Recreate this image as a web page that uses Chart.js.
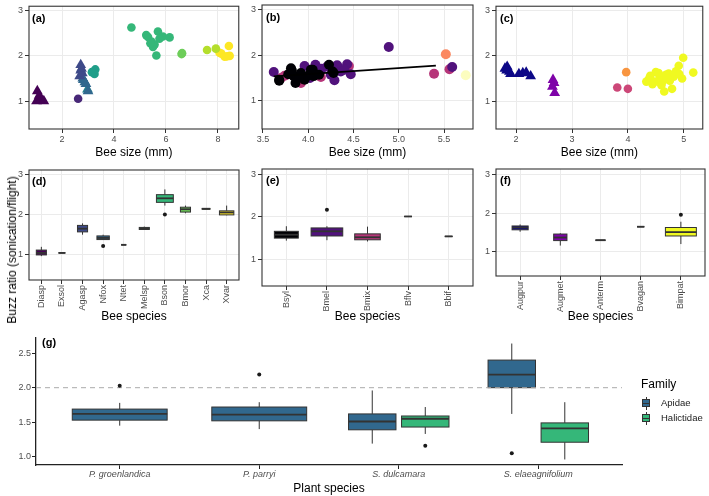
<!DOCTYPE html>
<html>
<head>
<meta charset="utf-8">
<script src="https://cdn.jsdelivr.net/npm/chart.js@4.4.1/dist/chart.umd.min.js"></script>
<style>
  body { margin: 0; background: #fff; font-family: "Liberation Sans", Arial, Helvetica, sans-serif; }
  #wrap { position: relative; width: 709px; height: 496px; overflow: hidden; }
  canvas { position: absolute; }
  .txt { position: absolute; white-space: nowrap; color: #000; }
  #ytitle { left: 12px; top: 250px; font-size: 12px; transform: translate(-50%, -50%) rotate(-90deg); }
  .key { position: absolute; width: 8px; height: 8px; border: 1px solid #333; box-sizing: border-box; }
  .key::after { content: ""; position: absolute; left: 0; right: 0; top: 2.5px; height: 1.5px; background: #333; }
  .whisk { position: absolute; width: 1px; background: #333; }
</style>
</head>
<body>
<div id="wrap">
  <canvas id="pa" width="245" height="162" style="left:0;top:0"></canvas>
  <canvas id="pb" width="245" height="162" style="left:233px;top:0"></canvas>
  <canvas id="pc" width="242" height="162" style="left:467px;top:0"></canvas>
  <canvas id="pd" width="245" height="162" style="left:0;top:162px"></canvas>
  <canvas id="pe" width="245" height="162" style="left:233px;top:162px"></canvas>
  <canvas id="pf" width="242" height="162" style="left:467px;top:162px"></canvas>
  <canvas id="pg" width="709" height="172" style="left:0;top:324px"></canvas>

  <div id="ytitle" class="txt">Buzz ratio (sonication/flight)</div>

  <div class="txt" style="left:641px;top:377px;font-size:12px">Family</div>
  <div class="whisk" style="left:646px;top:397px;height:13px"></div>
  <div class="key" style="left:642px;top:399px;background:#31688E"></div>
  <div class="txt" style="left:661px;top:397px;font-size:9.5px;color:#1A1A1A">Apidae</div>
  <div class="whisk" style="left:646px;top:412px;height:13px"></div>
  <div class="key" style="left:642px;top:414px;background:#35B779"></div>
  <div class="txt" style="left:661px;top:412px;font-size:9.5px;color:#1A1A1A">Halictidae</div>
</div>

<script>
const FONT = '"Liberation Sans", Arial, Helvetica, sans-serif';
Chart.defaults.font.family = FONT;

// ---------- panel (a): all bee species on S. elaeagnifolium / others ----------
const aLabels = ['Diasp', 'Exsol', 'Agasp', 'Nfox', 'Ntet', 'Melsp', 'Bson', 'Bmor', 'Xca', 'Xvar'];
const aFamily = ['Halictidae', 'Apidae', 'Halictidae', 'Halictidae', 'Halictidae', 'Apidae', 'Apidae', 'Apidae', 'Apidae', 'Apidae'];
const aSize = [1.05, 1.02, 1.2, 1.12, 1.3, 2.62, 2.72, 2.72, 2.68, 2.78, 2.75, 2.82, 2.88, 2.92, 2.8, 3.0, 2.98,
  3.2, 3.28, 3.25, 3.15, 4.67, 5.24, 5.31, 5.69, 5.88, 6.14, 5.44, 5.56, 5.5, 5.63, 5.75, 5.4,
  6.6, 6.62, 7.58, 7.92, 8.06, 8.13, 8.26, 8.45, 8.42, 8.35];
const aBuzz = [1.22, 1.0, 1.05, 1.12, 1.0, 1.05, 1.8, 1.68, 1.55, 1.62, 1.72, 1.47, 1.42, 1.38, 1.5, 1.22, 1.26,
  1.65, 1.7, 1.6, 1.64, 2.63, 2.46, 2.42, 2.54, 2.43, 2.41, 2.32, 2.25, 2.2, 2.01, 2.38, 2.28,
  2.04, 2.06, 2.13, 2.16, 2.07, 2.05, 1.98, 2.0, 2.22, 1.99];
const aSp = [0, 0, 0, 0, 0, 1, 2, 2, 2, 2, 2, 3, 3, 3, 3, 3, 4,
  5, 5, 5, 5, 6, 6, 6, 6, 6, 6, 6, 6, 6, 6, 6, 6,
  7, 7, 8, 8, 9, 9, 9, 9, 9, 9];

// ---------- panel (b) ----------
const bLabels = ['Bsyl', 'Bmel', 'Bmix', 'Bflv', 'Bbif'];
const bSize = [3.68, 3.82, 3.84, 3.86, 3.92, 3.96, 4.05, 4.06, 4.12, 4.23, 4.27, 3.81, 3.68, 4.28, 4.03, 3.9, 3.78, 4.0,
  3.62, 3.96, 4.08, 4.21, 4.32, 4.43, 4.47, 4.36, 4.02, 4.25, 3.9, 4.29, 4.89, 5.59, 4.15, 4.4,
  3.7, 3.92, 4.45, 4.14, 5.39, 5.56, 3.74,
  5.52, 5.74];
const bBuzz = [1.44, 1.66, 1.54, 1.39, 1.61, 1.46, 1.68, 1.54, 1.57, 1.79, 1.64, 1.71, 1.46, 1.61, 1.68, 1.5, 1.58, 1.55,
  1.63, 1.76, 1.79, 1.75, 1.78, 1.8, 1.58, 1.64, 1.5, 1.57, 1.52, 1.45, 2.18, 1.74, 1.7, 1.68,
  1.5, 1.39, 1.76, 1.52, 1.59, 1.69, 1.55,
  2.02, 1.56];
const bSp = [0, 0, 0, 0, 0, 0, 0, 0, 0, 0, 0, 0, 0, 0, 0, 0, 0, 0,
  1, 1, 1, 1, 1, 1, 1, 1, 1, 1, 1, 1, 1, 1, 1, 1,
  2, 2, 2, 2, 2, 2, 2,
  3, 4];
const bFitX = [3.62, 5.41];
const bFitY = [1.535, 1.77];

// ---------- panel (c) ----------
const cLabels = ['Augpur', 'Augmet', 'Anterm', 'Bvagan', 'Bimpat'];
const cFamily = ['Halictidae', 'Halictidae', 'Apidae', 'Apidae', 'Apidae'];
const cSize = [1.8, 1.84, 1.88, 1.9, 2.12, 2.18, 2.26, 2.05, 1.83,
  2.66, 2.68, 2.65, 2.69, 3.81, 4.0, 3.97,
  4.38, 4.5, 4.44, 4.62, 4.65, 4.73, 4.82, 4.91, 4.99, 5.17, 4.79, 4.97, 4.57, 4.33, 4.48, 4.68, 4.86, 4.4, 4.6, 4.75, 4.92, 4.55, 4.7];
const cBuzz = [1.72, 1.76, 1.65, 1.6, 1.62, 1.63, 1.55, 1.6, 1.68,
  1.47, 1.4, 1.32, 1.18, 1.3, 1.27, 1.64,
  1.5, 1.64, 1.37, 1.43, 1.21, 1.61, 1.54, 1.78, 1.96, 1.63, 1.27, 1.5, 1.54, 1.43, 1.43, 1.58, 1.66, 1.56, 1.35, 1.45, 1.6, 1.62, 1.5];
const cSp = [0, 0, 0, 0, 0, 0, 0, 0, 0,
  1, 1, 1, 1, 2, 2, 3,
  4, 4, 4, 4, 4, 4, 4, 4, 4, 4, 4, 4, 4, 4, 4, 4, 4, 4, 4, 4, 4, 4, 4];

// ---------- boxplots (d), (e), (f): low whisker, q1, median, q3, high whisker ----------
const dLow = [0.97, 1.05, 1.5, 1.38, 1.25, 1.62, 2.22, 2.03, 2.13, 1.98];
const dQ1 = [1.0, 1.05, 1.57, 1.38, 1.25, 1.63, 2.3, 2.06, 2.13, 1.99];
const dMed = [1.05, 1.05, 1.65, 1.42, 1.25, 1.65, 2.4, 2.13, 2.14, 2.05];
const dQ3 = [1.12, 1.05, 1.73, 1.47, 1.25, 1.68, 2.49, 2.18, 2.15, 2.09];
const dHigh = [1.2, 1.05, 1.78, 1.5, 1.25, 1.7, 2.62, 2.22, 2.15, 2.22];
const dOutX = [4, 7];
const dOutY = [1.22, 2.0];

const eLow = [1.44, 1.45, 1.42, 2.01, 1.54];
const eQ1 = [1.5, 1.55, 1.46, 2.01, 1.54];
const eMed = [1.58, 1.66, 1.52, 2.01, 1.54];
const eQ3 = [1.66, 1.74, 1.6, 2.01, 1.54];
const eHigh = [1.78, 1.78, 1.77, 2.01, 1.54];
const eOutX = [2];
const eOutY = [2.17];

const fLow = [1.52, 1.16, 1.3, 1.65, 1.2];
const fQ1 = [1.57, 1.29, 1.3, 1.65, 1.41];
const fMed = [1.63, 1.37, 1.3, 1.65, 1.51];
const fQ3 = [1.67, 1.46, 1.3, 1.65, 1.63];
const fHigh = [1.71, 1.48, 1.3, 1.65, 1.78];
const fOutX = [5];
const fOutY = [1.96];

// ---------- panel (g): by plant species and family ----------
const gPlants = ['P. groenlandica', 'P. parryi', 'S. dulcamara', 'S. elaeagnifolium'];
const apiLow = [1.45, 1.40, 1.19, 1.62];
const apiQ1 = [1.53, 1.52, 1.39, 2.00];
const apiMed = [1.62, 1.61, 1.51, 2.19];
const apiQ3 = [1.69, 1.72, 1.62, 2.40];
const apiHigh = [1.78, 1.79, 1.96, 2.64];
const apiOutX = [1, 2, 4];
const apiOutY = [2.03, 2.19, 1.05];
const halLow = [null, null, 1.33, 0.96];
const halQ1 = [null, null, 1.43, 1.21];
const halMed = [null, null, 1.55, 1.41];
const halQ3 = [null, null, 1.59, 1.49];
const halHigh = [null, null, 1.72, 1.79];
const halOutX = [3];
const halOutY = [1.16];
const refLine = 2.0;

// ---------- styles ----------
const viridis10 = ['#440154', '#482878', '#3E4A89', '#31688E', '#26828E', '#1F9E89', '#35B779', '#6DCD59', '#B4DE2C', '#FDE725'];
const magma5 = ['#000004', '#51127C', '#B63679', '#FB8861', '#FCFDBF'];
const plasma5 = ['#0D0887', '#7E03A8', '#CC4778', '#F89540', '#F0F921'];
const famColor = {Apidae: '#31688E', Halictidae: '#35B779'};
// varwidth box widths (category units)
const dBoxW = [0.49, 0.33, 0.49, 0.6, 0.25, 0.49, 0.82, 0.49, 0.39, 0.7];
const eBoxW = [0.59, 0.78, 0.63, 0.19, 0.19];
const fBoxW = [0.4, 0.33, 0.25, 0.18, 0.77];

const tickFont = {family: FONT, size: 9};
const titleFont = {family: FONT, size: 12};
const gridStyle = {color: '#EBEBEB', lineWidth: 1, tickColor: '#333', tickLength: 4};

// force axis sizes so panels line up like the original figure
function fit(size) {
  return function (axis) {
    if (axis.isHorizontal()) axis.height = size; else axis.width = size;
    axis.paddingTop = axis.paddingBottom = axis.paddingLeft = axis.paddingRight = 0;
  };
}

const framePlugin = {
  id: 'frame',
  afterDraw(chart) {
    const a = chart.chartArea, ctx = chart.ctx;
    ctx.save();
    ctx.strokeStyle = '#333';
    ctx.lineWidth = 1.1;
    ctx.strokeRect(a.left, a.top, a.right - a.left, a.bottom - a.top);
    ctx.restore();
  }
};

function tagPlugin(text, dx, dy) {
  return {
    id: 'tag',
    afterDraw(chart) {
      const ctx = chart.ctx, a = chart.chartArea;
      ctx.save();
      ctx.font = 'bold 11px ' + FONT;
      ctx.fillStyle = '#000';
      ctx.textBaseline = 'alphabetic';
      ctx.fillText(text, a.left + dx, a.top + dy);
      ctx.restore();
    }
  };
}

function boxPlugin(items) {
  return {
    id: 'boxes',
    beforeDatasetsDraw(chart) {
      const {ctx, scales: {x, y}} = chart;
      ctx.save();
      items.forEach(b => {
        const cx = x.getPixelForValue(b.x);
        const half = Math.abs(x.getPixelForValue(b.x + b.w / 2) - cx);
        const yLow = y.getPixelForValue(b.low), yQ1 = y.getPixelForValue(b.q1);
        const yMed = y.getPixelForValue(b.med), yQ3 = y.getPixelForValue(b.q3);
        const yHigh = y.getPixelForValue(b.high);
        ctx.strokeStyle = '#333';
        ctx.lineWidth = 1;
        ctx.beginPath();
        ctx.moveTo(cx, yHigh); ctx.lineTo(cx, yQ3);
        ctx.moveTo(cx, yQ1); ctx.lineTo(cx, yLow);
        ctx.stroke();
        ctx.fillStyle = b.fill;
        ctx.fillRect(cx - half, yQ3, 2 * half, yQ1 - yQ3);
        ctx.strokeRect(cx - half, yQ3, 2 * half, yQ1 - yQ3);
        ctx.lineWidth = 1.8;
        ctx.beginPath();
        ctx.moveTo(cx - half, yMed); ctx.lineTo(cx + half, yMed);
        ctx.stroke();
      });
      ctx.restore();
    }
  };
}

function yAxis(min, max, step, width, fmt) {
  return {
    type: 'linear', min, max,
    afterFit: fit(width),
    border: {display: false},
    grid: gridStyle,
    ticks: {stepSize: step, includeBounds: false, font: tickFont, color: '#4D4D4D', padding: 2, callback: fmt}
  };
}

function sizeAxis(min, max, step, digits) {
  return {
    type: 'linear', min, max,
    afterFit: fit(33),
    border: {display: false},
    grid: gridStyle,
    ticks: {stepSize: step, includeBounds: false, font: tickFont, color: '#4D4D4D', padding: 1, maxRotation: 0,
      callback: v => v.toFixed(digits)},
    title: {display: true, text: 'Bee size (mm)', font: titleFont, color: '#000', padding: {top: 0, bottom: 2}}
  };
}

function speciesAxis(labels, height) {
  return {
    type: 'linear', min: 0.4, max: labels.length + 0.6,
    afterFit: fit(height),
    border: {display: false},
    grid: gridStyle,
    ticks: {stepSize: 1, includeBounds: false, autoSkip: false, minRotation: 90, maxRotation: 90,
      font: tickFont, color: '#4D4D4D', padding: 1, callback: v => labels[Math.round(v) - 1] || ''},
    title: {display: true, text: 'Bee species', font: titleFont, color: '#000', padding: {top: 0, bottom: 0}}
  };
}

function options(scales, padding) {
  return {
    responsive: false, animation: false, events: [],
    layout: {padding},
    plugins: {legend: {display: false}, tooltip: {enabled: false}},
    scales
  };
}

function speciesPoints(xs, ys, sp, labels, colors, families, r) {
  return labels.map((lab, k) => {
    const pts = [];
    sp.forEach((s, i) => { if (s === k) pts.push({x: xs[i], y: ys[i]}); });
    const tri = families[k] === 'Halictidae';
    return {
      label: lab, data: pts, backgroundColor: colors[k], borderWidth: 0,
      pointStyle: tri ? 'triangle' : 'circle', pointRadius: tri ? r * 1.45 : r
    };
  });
}

function outlierSet(xs, ys) {
  return {data: xs.map((x, i) => ({x, y: ys[i]})), backgroundColor: '#1A1A1A', borderWidth: 0, pointRadius: 2};
}

function boxItems(low, q1, med, q3, high, widths, fills) {
  return low.map((l, i) => ({x: i + 1, w: widths[i], low: l, q1: q1[i], med: med[i], q3: q3[i], high: high[i], fill: fills[i]}));
}

const yFmt = v => String(v);

// ----- (a)
new Chart(document.getElementById('pa'), {
  type: 'scatter',
  data: {datasets: speciesPoints(aSize, aBuzz, aSp, aLabels, viridis10, aFamily, 4.3)},
  options: options({x: sizeAxis(0.73, 8.8, 2, 0), y: yAxis(0.38, 3.1, 1, 29, yFmt)}, {top: 2, right: 6, left: 0, bottom: 0}),
  plugins: [framePlugin, tagPlugin('(a)', 3, 16)]
});

// ----- (b)
const bSets = speciesPoints(bSize, bBuzz, bSp, bLabels, magma5, bLabels.map(() => 'Apidae'), 5);
bSets.unshift({
  data: bFitX.map((x, i) => ({x, y: bFitY[i]})), showLine: true, borderColor: '#000', borderWidth: 1.6,
  pointRadius: 0, fill: false
});
new Chart(document.getElementById('pb'), {
  type: 'scatter',
  data: {datasets: bSets},
  options: options({x: sizeAxis(3.49, 5.82, 0.5, 1), y: yAxis(0.38, 3.1, 1, 29, yFmt)}, {top: 2, right: 5, left: 0, bottom: 0}),
  plugins: [framePlugin, tagPlugin('(b)', 4, 16)]
});

// ----- (c)
new Chart(document.getElementById('pc'), {
  type: 'scatter',
  data: {datasets: speciesPoints(cSize, cBuzz, cSp, cLabels, plasma5, cFamily, 4.3)},
  options: options({x: sizeAxis(1.64, 5.34, 1, 0), y: yAxis(0.38, 3.1, 1, 29, yFmt)}, {top: 2, right: 1, left: 0, bottom: 0}),
  plugins: [framePlugin, tagPlugin('(c)', 4, 16)]
});

// ----- (d)
new Chart(document.getElementById('pd'), {
  type: 'scatter',
  data: {datasets: [outlierSet(dOutX, dOutY)]},
  options: options({x: speciesAxis(aLabels, 44), y: yAxis(0.38, 3.1, 1, 29, yFmt)}, {top: 8, right: 6, left: 0, bottom: 0}),
  plugins: [boxPlugin(boxItems(dLow, dQ1, dMed, dQ3, dHigh, dBoxW, viridis10)), framePlugin, tagPlugin('(d)', 3, 15)]
});

// ----- (e)
new Chart(document.getElementById('pe'), {
  type: 'scatter',
  data: {datasets: [outlierSet(eOutX, eOutY)]},
  options: options({x: speciesAxis(bLabels, 38), y: yAxis(0.37, 3.13, 1, 29, yFmt)}, {top: 7, right: 5, left: 0, bottom: 0}),
  plugins: [boxPlugin(boxItems(eLow, eQ1, eMed, eQ3, eHigh, eBoxW, magma5)), framePlugin, tagPlugin('(e)', 4, 15)]
});

// ----- (f)
new Chart(document.getElementById('pf'), {
  type: 'scatter',
  data: {datasets: [outlierSet(fOutX, fOutY)]},
  options: options({x: speciesAxis(cLabels, 48), y: yAxis(0.37, 3.15, 1, 29, yFmt)}, {top: 7, right: 1, left: 0, bottom: 0}),
  plugins: [boxPlugin(boxItems(fLow, fQ1, fMed, fQ3, fHigh, fBoxW, plasma5)), framePlugin, tagPlugin('(f)', 4, 15)]
});

// ----- (g): dodge Apidae / Halictidae when both are present
const dodge = 0.19, halfW = 0.34, fullW = 0.68;
const gBoxes = [];
gPlants.forEach((p, i) => {
  const both = halMed[i] !== null;
  gBoxes.push({x: i + 1 - (both ? dodge : 0), w: both ? halfW : fullW, low: apiLow[i], q1: apiQ1[i], med: apiMed[i],
    q3: apiQ3[i], high: apiHigh[i], fill: famColor.Apidae});
  if (both) {
    gBoxes.push({x: i + 1 + dodge, w: halfW, low: halLow[i], q1: halQ1[i], med: halMed[i],
      q3: halQ3[i], high: halHigh[i], fill: famColor.Halictidae});
  }
});
const gOut = outlierSet(
  apiOutX.map(x => x - (halMed[x - 1] !== null ? dodge : 0)).concat(halOutX.map(x => x + dodge)),
  apiOutY.concat(halOutY));

new Chart(document.getElementById('pg'), {
  type: 'scatter',
  data: {
    datasets: [
      gOut,
      {data: [{x: 0.4, y: refLine}, {x: gPlants.length + 0.6, y: refLine}], showLine: true, borderColor: '#AAAAAA',
        borderWidth: 1, borderDash: [5, 4], pointRadius: 0, fill: false}
    ]
  },
  options: options({
    x: {
      type: 'linear', min: 0.4, max: gPlants.length + 0.6,
      afterFit: fit(31),
      border: {display: true, color: '#222', width: 1.3},
      grid: {display: true, drawOnChartArea: false, tickColor: '#222', tickLength: 4},
      ticks: {stepSize: 1, includeBounds: false, autoSkip: false, maxRotation: 0, padding: 0,
        font: {family: FONT, size: 9, style: 'italic'}, color: '#4D4D4D', callback: v => gPlants[Math.round(v) - 1] || ''},
      title: {display: true, text: 'Plant species', font: titleFont, color: '#000', padding: {top: 0, bottom: 0}}
    },
    y: {
      type: 'linear', min: 0.88, max: 2.72,
      afterFit: fit(36),
      border: {display: true, color: '#222', width: 1.3},
      grid: {display: true, drawOnChartArea: false, tickColor: '#222', tickLength: 4},
      ticks: {stepSize: 0.5, includeBounds: false, font: tickFont, color: '#4D4D4D', padding: 1, callback: v => v.toFixed(1)}
    }
  }, {top: 14, right: 87, left: 0, bottom: 0}),
  plugins: [boxPlugin(gBoxes), tagPlugin('(g)', 6, 8)]
});
</script>
</body>
</html>
